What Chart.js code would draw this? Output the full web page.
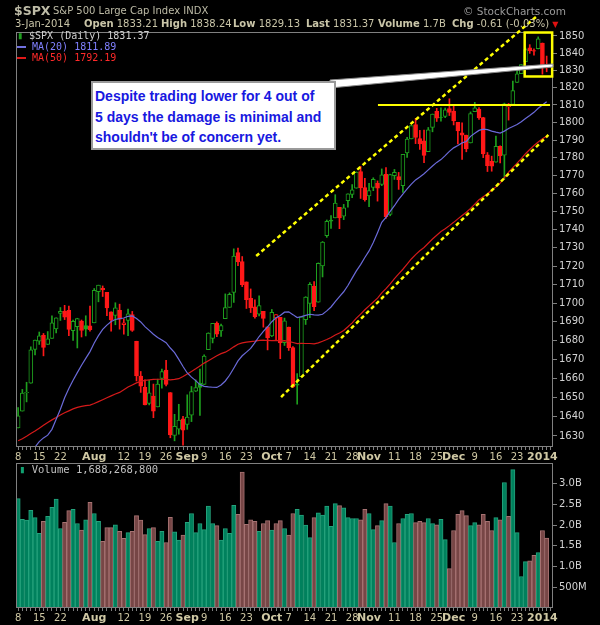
<!DOCTYPE html>
<html>
<head>
<meta charset="utf-8">
<script src="https://cdn.jsdelivr.net/npm/chart.js@4.4.1/dist/chart.umd.min.js"></script>
<style>
  body { margin:0; background:#000; width:600px; height:625px; overflow:hidden; position:relative; font-family:"DejaVu Sans", sans-serif; }
  canvas { position:absolute; left:0; }
  #priceChart { top:0; }
  #volChart { top:462px; }
  .txt { position:absolute; white-space:nowrap; line-height:1; }
  .hd { color:#c9c5a8; font-size:10px; }
  .hd b { color:#c9c5a8; }
  .lg { font-family:"DejaVu Sans Mono", monospace; font-size:10px; }
  #callout { position:absolute; left:91px; top:81px; width:239px; height:62px; background:#fff; border:2px solid #9a9a9a;
    font-family:"Liberation Sans", Arial, sans-serif; font-weight:bold; font-size:14px; color:#1818e0; line-height:20.6px; padding:3px 0 0 2px; box-sizing:content-box; }
</style>
</head>
<body>
<canvas id="priceChart" width="600" height="463"></canvas>
<canvas id="volChart" width="600" height="163"></canvas>

<div class="txt" style="left:14px;top:5px;font-size:12.5px;font-weight:bold;color:#bdbba6">$SPX</div>
<div class="txt" style="left:53px;top:6px;font-size:10px;color:#bdbba6">S&amp;P 500 Large Cap Index INDX</div>
<div class="txt" style="left:463px;top:6px;font-size:10.5px;color:#9a9a9a">&copy; StockCharts.com</div>

<div class="txt hd" style="left:15px;top:19px">3-Jan-2014</div>
<div class="txt hd" style="left:84px;top:19px"><b>Open</b> 1833.21</div>
<div class="txt hd" style="left:161px;top:19px"><b>High</b> 1838.24</div>
<div class="txt hd" style="left:233px;top:19px"><b>Low</b> 1829.13</div>
<div class="txt hd" style="left:306px;top:19px"><b>Last</b> 1831.37</div>
<div class="txt hd" style="left:378px;top:19px"><b>Volume</b> 1.7B</div>
<div class="txt hd" style="left:452px;top:19px"><b>Chg</b> -0.61 (-0.03%) <span style="color:#e01010;font-size:8px">&#9660;</span></div>

<div class="txt lg" style="left:17px;top:31px;color:#d0d0d0"><span style="color:#1fa01f">&#9646;</span> $SPX (Daily) 1831.37</div>
<div class="txt lg" style="left:17px;top:42px;color:#8080ff"><span style="display:inline-block;width:9px;height:2px;background:#7070e0;vertical-align:middle"></span> MA(20) 1811.89</div>
<div class="txt lg" style="left:17px;top:53px;color:#ff2a2a"><span style="display:inline-block;width:9px;height:2px;background:#e01818;vertical-align:middle"></span> MA(50) 1792.19</div>

<div id="callout">Despite trading lower for 4 out of<br>5 days the damage is minimal and<br>shouldn't be of concern yet.</div>

<div class="txt lg" style="left:19px;top:464px;color:#c0c0c0;font-size:10.5px"><span style="color:#10a070">&#9646;</span> Volume 1,688,268,800</div>

<script>
// S&P 500 daily, 8-Jul-2013 .. 3-Jan-2014
const days = [
  'Jul 8','Jul 9','Jul 10','Jul 11','Jul 12','Jul 15','Jul 16','Jul 17','Jul 18','Jul 19','Jul 22','Jul 23','Jul 24','Jul 25','Jul 26','Jul 29','Jul 30','Jul 31',
  'Aug 1','Aug 2','Aug 5','Aug 6','Aug 7','Aug 8','Aug 9','Aug 12','Aug 13','Aug 14','Aug 15','Aug 16','Aug 19','Aug 20','Aug 21','Aug 22','Aug 23','Aug 26','Aug 27','Aug 28','Aug 29','Aug 30',
  'Sep 3','Sep 4','Sep 5','Sep 6','Sep 9','Sep 10','Sep 11','Sep 12','Sep 13','Sep 16','Sep 17','Sep 18','Sep 19','Sep 20','Sep 23','Sep 24','Sep 25','Sep 26','Sep 27','Sep 30',
  'Oct 1','Oct 2','Oct 3','Oct 4','Oct 7','Oct 8','Oct 9','Oct 10','Oct 11','Oct 14','Oct 15','Oct 16','Oct 17','Oct 18','Oct 21','Oct 22','Oct 23','Oct 24','Oct 25','Oct 28','Oct 29','Oct 30','Oct 31',
  'Nov 1','Nov 4','Nov 5','Nov 6','Nov 7','Nov 8','Nov 11','Nov 12','Nov 13','Nov 14','Nov 15','Nov 18','Nov 19','Nov 20','Nov 21','Nov 22','Nov 25','Nov 26','Nov 27','Nov 29',
  'Dec 2','Dec 3','Dec 4','Dec 5','Dec 6','Dec 9','Dec 10','Dec 11','Dec 12','Dec 13','Dec 16','Dec 17','Dec 18','Dec 19','Dec 20','Dec 23','Dec 24','Dec 26','Dec 27','Dec 30','Dec 31',
  'Jan 2','Jan 3'
];

const prevClose = 1631.89; // close before the first day, for the colour of day 1

const opens = [
  1634.2,1642.89,1652.5,1657.41,1675.26,1679.59,1682.7,1677.91,1681.05,1686.15,
  1694.41,1695.53,1696.06,1685.21,1687.31,1690.32,1687.92,1687.76,1689.42,1706.1,
  1708.01,1705.79,1695.3,1693.35,1696.1,1688.37,1690.65,1693.88,1679.61,1661.22,
  1655.25,1646.81,1650.66,1645.03,1659.92,1664.29,1652.54,1630.25,1633.5,1638.89,
  1635.95,1640.72,1653.28,1657.44,1656.85,1675.11,1681.04,1689.21,1685.04,1691.7,
  1697.73,1705.74,1727.34,1722.44,1711.44,1702.6,1698.02,1694.05,1695.52,1687.26,
  1682.41,1691.9,1692.35,1678.79,1687.15,1676.22,1656.99,1660.88,1691.09,1699.86,
  1709.17,1700.49,1720.17,1736.72,1745.2,1746.48,1752.27,1747.48,1756.01,1759.42,
  1762.93,1772.27,1763.24,1758.7,1763.4,1765.67,1765.0,1770.74,1748.37,1769.96,
  1769.51,1764.37,1782.75,1790.66,1798.82,1790.79,1789.59,1783.52,1797.21,1806.33,
  1802.87,1803.48,1808.01,1806.55,1800.1,1794.15,1792.82,1788.36,1806.21,1807.6,
  1802.76,1781.71,1777.98,1777.48,1786.47,1781.46,1809.0,1810.39,1822.92,1828.02,
  1834.96,1842.97,1841.47,1842.61,1845.86,1833.21
];
const highs = [
  1644.68,1654.18,1657.92,1676.63,1680.19,1684.51,1683.73,1684.75,1693.12,1692.09,
  1697.61,1698.78,1698.38,1690.94,1691.85,1690.92,1693.19,1698.43,1707.85,1709.67,
  1709.24,1705.79,1695.3,1700.18,1699.42,1691.49,1696.81,1695.52,1679.61,1663.6,
  1659.18,1658.92,1656.99,1659.55,1664.85,1669.51,1652.54,1641.18,1646.41,1640.08,
  1651.35,1655.72,1659.17,1664.83,1672.4,1684.09,1689.13,1689.97,1688.73,1704.95,
  1705.52,1729.44,1729.86,1725.23,1711.44,1707.63,1701.71,1703.85,1695.52,1687.26,
  1696.55,1693.87,1692.35,1691.94,1687.15,1676.79,1662.47,1692.56,1703.44,1711.03,
  1711.57,1721.76,1733.45,1745.31,1747.79,1759.33,1752.27,1753.94,1759.82,1764.99,
  1772.09,1775.22,1768.53,1765.67,1768.78,1767.03,1773.74,1774.54,1770.78,1773.44,
  1771.78,1782.0,1791.53,1798.22,1802.33,1795.51,1795.73,1797.16,1804.84,1808.1,
  1808.42,1808.27,1813.55,1810.02,1800.1,1799.8,1792.82,1806.04,1811.52,1808.52,
  1802.97,1782.99,1780.92,1792.22,1786.77,1811.08,1810.88,1823.75,1829.75,1833.32,
  1842.84,1844.89,1842.47,1849.44,1845.86,1838.24
];
const lows = [
  1634.2,1642.89,1647.66,1657.41,1672.33,1677.89,1671.84,1677.91,1681.05,1684.08,
  1690.67,1691.13,1682.57,1680.07,1676.03,1681.86,1682.42,1684.94,1689.42,1700.68,
  1703.55,1693.29,1684.91,1688.38,1686.02,1683.35,1682.62,1684.83,1658.59,1652.61,
  1646.06,1646.08,1639.43,1645.03,1654.81,1656.02,1629.05,1627.47,1630.88,1625.27,
  1633.41,1637.41,1653.07,1640.62,1656.85,1675.11,1678.7,1681.96,1682.22,1691.7,
  1697.73,1700.35,1720.2,1708.89,1697.1,1694.9,1691.88,1693.11,1687.11,1674.99,
  1682.07,1680.34,1670.36,1677.33,1674.7,1655.03,1646.47,1660.88,1688.52,1692.13,
  1695.93,1700.49,1714.12,1735.74,1740.67,1746.48,1740.5,1745.5,1752.45,1757.67,
  1762.93,1757.24,1755.72,1752.7,1761.56,1755.76,1764.4,1746.2,1747.63,1767.85,
  1762.29,1760.64,1780.22,1790.66,1788.0,1784.72,1777.23,1783.52,1794.7,1800.58,
  1800.77,1802.77,1803.98,1798.6,1787.85,1779.09,1783.38,1788.36,1806.21,1801.75,
  1780.09,1772.28,1772.45,1777.48,1777.05,1767.99,1801.35,1810.25,1822.92,1828.02,
  1834.96,1839.81,1838.77,1842.41,1827.74,1829.13
];
const closes = [
  1640.46,1652.32,1652.62,1675.02,1680.19,1682.5,1676.26,1680.91,1689.37,1692.09,
  1695.53,1692.39,1685.94,1690.25,1691.65,1685.33,1685.96,1685.73,1706.87,1709.67,
  1707.14,1697.37,1690.91,1697.48,1691.42,1689.47,1694.16,1685.39,1661.32,1655.83,
  1646.06,1652.35,1642.8,1656.96,1663.5,1656.78,1630.48,1634.96,1638.17,1632.97,
  1639.77,1653.08,1655.08,1655.17,1671.71,1683.99,1689.13,1683.42,1687.99,1697.6,
  1704.76,1725.52,1722.34,1709.91,1701.84,1697.42,1692.77,1698.67,1691.75,1681.55,
  1695.0,1693.87,1678.66,1690.5,1676.12,1655.45,1656.4,1692.56,1703.2,1710.14,
  1698.06,1721.54,1733.15,1744.5,1744.66,1754.67,1746.38,1752.07,1759.77,1762.11,
  1771.95,1763.31,1756.54,1761.64,1767.93,1762.97,1770.49,1747.15,1770.61,1771.89,
  1767.69,1782.0,1790.62,1798.18,1791.53,1787.87,1781.37,1795.85,1804.76,1802.48,
  1802.75,1807.23,1805.81,1800.9,1795.15,1792.81,1785.03,1805.09,1808.37,1802.62,
  1782.22,1775.5,1775.32,1786.54,1781.0,1810.65,1809.6,1818.32,1827.99,1833.32,
  1842.02,1841.4,1841.07,1848.36,1831.98,1831.37
];

const ma20 = [
  1617.2,1617.7,1619.0,1622.1,1624.3,1627.1,1629.0,1630.4,1633.4,1638.6,
  1643.8,1649.8,1654.7,1659.0,1663.0,1666.9,1670.5,1674.1,1678.7,1682.6,
  1685.9,1688.2,1690.1,1691.2,1691.7,1692.0,1692.9,1693.1,1691.7,1689.9,
  1687.4,1685.4,1683.3,1681.6,1680.2,1678.8,1676.0,1673.5,1670.0,1666.2,
  1662.8,1660.6,1658.8,1656.7,1655.8,1655.5,1655.3,1655.2,1656.5,1658.6,
  1661.6,1665.3,1669.2,1671.9,1673.8,1675.8,1678.9,1682.1,1684.8,1687.3,
  1690.0,1692.1,1693.3,1695.1,1695.3,1693.8,1692.2,1692.7,1693.4,1694.0,
  1693.7,1693.5,1694.0,1695.8,1697.9,1700.8,1703.5,1706.1,1709.5,1713.5,
  1717.4,1720.8,1724.7,1728.3,1732.9,1738.3,1744.0,1746.7,1750.1,1753.2,
  1756.7,1759.7,1762.6,1765.2,1767.6,1769.2,1771.0,1773.2,1775.4,1777.4,
  1779.0,1781.2,1783.6,1785.6,1786.9,1788.4,1789.2,1792.1,1793.9,1795.5,
  1796.2,1795.9,1795.1,1794.5,1794.0,1795.1,1796.6,1797.7,1798.8,1800.4,
  1802.3,1804.0,1805.8,1808.1,1810.0,1811.9
];
const ma50 = [
  1627.5,1628.5,1629.8,1631.2,1632.5,1634.0,1635.5,1637.0,1638.3,1639.5,
  1640.8,1642.0,1643.0,1644.0,1644.8,1645.3,1645.7,1646.0,1646.8,1647.8,
  1648.8,1649.8,1650.8,1651.8,1652.6,1654.0,1655.4,1656.5,1657.6,1658.4,
  1658.9,1659.2,1659.4,1659.5,1659.5,1659.4,1659.2,1659.4,1659.8,1661.0,
  1662.3,1663.6,1665.0,1666.5,1668.0,1669.3,1670.6,1671.9,1673.0,1673.8,
  1675.1,1676.6,1678.0,1678.7,1679.1,1679.4,1679.7,1680.1,1680.2,1680.0,
  1679.9,1680.0,1679.8,1679.9,1679.5,1678.9,1678.3,1678.5,1678.4,1678.4,
  1678.2,1678.7,1679.6,1680.5,1681.6,1682.9,1684.0,1685.3,1687.3,1689.4,
  1691.9,1694.1,1696.4,1698.5,1700.6,1702.7,1705.5,1707.8,1710.4,1713.2,
  1715.8,1718.3,1721.1,1723.9,1726.3,1728.4,1730.2,1732.5,1734.8,1736.9,
  1738.9,1740.5,1742.2,1744.0,1745.9,1747.8,1749.6,1751.7,1754.1,1756.5,
  1758.2,1759.9,1761.8,1763.7,1765.8,1768.9,1772.0,1774.5,1777.0,1779.5,
  1782.3,1784.7,1786.9,1788.9,1790.7,1792.2
];

// volume, billions of shares
const volumes = [
  2.64,2.14,2.12,2.36,2.18,1.80,2.09,2.21,2.43,2.63,
  1.92,2.07,2.35,2.38,2.04,1.88,2.13,2.55,2.28,2.09,
  1.61,1.94,1.94,2.01,1.85,1.68,1.82,1.85,2.23,2.12,
  1.77,1.92,1.94,1.61,1.85,1.58,2.19,1.84,1.64,1.76,
  2.07,2.28,1.82,2.04,1.89,2.46,2.04,1.99,1.64,1.92,
  1.80,2.48,2.26,3.28,2.02,2.13,2.09,1.85,2.04,2.11,
  1.88,2.04,2.11,1.92,1.76,2.28,2.38,2.24,2.00,1.70,
  2.18,2.30,2.24,2.46,1.97,2.52,2.47,2.42,2.18,2.16,
  2.16,2.13,2.38,2.28,1.89,1.99,2.11,2.52,2.46,1.58,
  2.04,2.16,2.26,2.28,2.06,2.09,2.06,2.16,2.04,2.01,
  2.14,1.65,0.95,1.87,2.26,2.35,2.23,1.99,2.06,2.01,
  2.26,2.09,1.87,2.18,2.13,3.03,2.21,3.34,1.82,0.76,
  1.12,1.14,1.27,1.34,1.87,1.69
];

const priceTicks = [1630,1640,1650,1660,1670,1680,1690,1700,1710,1720,1730,1740,1750,1760,1770,1780,1790,1800,1810,1820,1830,1840,1850];
const volTicks = [0.5, 1.0, 1.5, 2.0, 2.5, 3.0];
const volTickLabels = ['500M', '1.0B', '1.5B', '2.0B', '2.5B', '3.0B'];
const xTickLabels = {
  'Jul 8':'8','Jul 15':'15','Jul 22':'22','Aug 1':'Aug','Aug 12':'12','Aug 19':'19','Aug 26':'26',
  'Sep 3':'Sep','Sep 9':'9','Sep 16':'16','Sep 23':'23','Oct 1':'Oct','Oct 7':'7','Oct 14':'14',
  'Oct 21':'21','Oct 28':'28','Nov 1':'Nov','Nov 11':'11','Nov 18':'18','Nov 25':'25','Dec 2':'Dec',
  'Dec 9':'9','Dec 16':'16','Dec 23':'23','Jan 2':'2014'
};
const boldLabels = ['Aug','Sep','Oct','Nov','Dec','2014'];

// annotations, in (day index, price)
const upperChannel = [[56.3, 1725.5], [123.0, 1862.3]];
const lowerChannel = [[62.2, 1650.2], [125.4, 1792.9]];
const resistance = [[85.1, 1810], [125.8, 1810]];
const focusBox = [[119.8, 1852.0], [126.3, 1826.4]];

const UP = '#1ea01e', DOWN = '#ff1818';
const slots = days.concat(['']); // one empty slot on the right

const candleColor = closes.map((c, i) => c >= (i ? closes[i - 1] : prevClose) ? UP : DOWN);
const bodyFill = closes.map((c, i) => c < opens[i] ? candleColor[i] : '#000');
const wicks = days.map((d, i) => [Math.min(lows[i], opens[i], closes[i]), Math.max(highs[i], opens[i], closes[i])]);
const bodies = days.map((d, i) => [opens[i], closes[i]]);

const volFill = candleColor.map(c => c === UP ? '#00815d' : '#774646');
const volEdge = candleColor.map(c => c === UP ? '#25a27c' : '#a67272');

function tickText(i) {
  return xTickLabels[slots[i]] || '';
}
function tickFont(ctx) {
  const t = tickText(ctx.index);
  return boldLabels.includes(t)
    ? { family: 'DejaVu Sans', size: 11, weight: 'bold' }
    : { family: 'DejaVu Sans', size: 10 };
}

const frame = {
  id: 'frame',
  afterDraw(chart) {
    const a = chart.chartArea, ctx = chart.ctx;
    ctx.save();
    ctx.strokeStyle = '#808080';
    ctx.lineWidth = 1;
    ctx.strokeRect(Math.round(a.left) + 0.5, Math.round(a.top) + 0.5, Math.round(a.right - a.left) - 1, Math.round(a.bottom - a.top) - 1);
    ctx.restore();
  }
};

const notes = {
  id: 'notes',
  afterDraw(chart) {
    const xs = chart.scales.x, ys = chart.scales.y, ctx = chart.ctx;
    const pt = p => [xs.getPixelForValue(p[0]), ys.getPixelForValue(p[1])];
    ctx.save();
    ctx.strokeStyle = '#ffff00';
    // dashed channel lines
    ctx.lineWidth = 2.5;
    ctx.setLineDash([4, 3]);
    [upperChannel, lowerChannel].forEach(l => {
      const a = pt(l[0]), b = pt(l[1]);
      ctx.beginPath(); ctx.moveTo(a[0], a[1]); ctx.lineTo(b[0], b[1]); ctx.stroke();
    });
    ctx.setLineDash([]);
    // horizontal resistance
    ctx.lineWidth = 2;
    let a = pt(resistance[0]), b = pt(resistance[1]);
    ctx.beginPath(); ctx.moveTo(a[0], a[1]); ctx.lineTo(b[0], b[1]); ctx.stroke();
    // box round the last five days
    ctx.lineWidth = 2.5;
    a = pt(focusBox[0]); b = pt(focusBox[1]);
    ctx.strokeRect(a[0], a[1], b[0] - a[0], b[1] - a[1]);
    // callout pointer
    ctx.fillStyle = '#ffffff';
    ctx.strokeStyle = '#8a8a8a';
    ctx.lineWidth = 1;
    ctx.beginPath();
    ctx.moveTo(330, 80); ctx.lineTo(553, 64); ctx.lineTo(553, 67); ctx.lineTo(330, 88);
    ctx.closePath(); ctx.fill(); ctx.stroke();
    ctx.restore();
  }
};

const xScale = {
  type: 'category',
  offset: true,
  grid: { display: true, drawOnChartArea: false, tickLength: 3, color: '#808080', offset: false },
  border: { display: false },
  ticks: {
    autoSkip: false, maxRotation: 0, minRotation: 0, padding: 1,
    color: '#cfc8a4',
    font: tickFont,
    callback: (v, i) => tickText(i)
  },
  afterFit: s => { s.height = 16; }
};

new Chart(document.getElementById('priceChart'), {
  type: 'bar',
  data: {
    labels: slots,
    datasets: [
      { type: 'line', data: ma20, borderColor: '#6a6ad8', borderWidth: 1.2, pointRadius: 0, tension: 0, order: 0 },
      { type: 'line', data: ma50, borderColor: '#d41a1a', borderWidth: 1.2, pointRadius: 0, tension: 0, order: 0 },
      { data: bodies, backgroundColor: bodyFill, borderColor: candleColor, borderWidth: 1, borderSkipped: false, barThickness: 4, grouped: false, order: 1 },
      { data: wicks, backgroundColor: candleColor, barThickness: 1, grouped: false, order: 2 }
    ]
  },
  options: {
    responsive: false,
    animation: false,
    events: [],
    layout: { padding: { left: 16, top: 32, right: 0, bottom: 0 } },
    plugins: { legend: { display: false }, tooltip: { enabled: false } },
    scales: {
      x: xScale,
      y: {
        type: 'logarithmic',
        position: 'right',
        min: 1624.3,
        max: 1852.3,
        afterBuildTicks: s => { s.ticks = priceTicks.map(v => ({ value: v })); },
        grid: { drawOnChartArea: false, tickLength: 4, color: '#808080' },
        border: { display: false },
        ticks: { autoSkip: false, padding: 2, color: '#d2d2d2', font: { family: 'DejaVu Sans', size: 10 }, callback: v => String(v) },
        afterFit: s => { s.width = 47; s.paddingTop = 0; s.paddingBottom = 0; }
      }
    }
  },
  plugins: [frame, notes]
});

new Chart(document.getElementById('volChart'), {
  type: 'bar',
  data: {
    labels: slots,
    datasets: [
      { data: volumes, backgroundColor: volFill, borderColor: volEdge, borderWidth: 1, barPercentage: 1, categoryPercentage: 1 }
    ]
  },
  options: {
    responsive: false,
    animation: false,
    events: [],
    layout: { padding: { left: 16, top: 1, right: 0, bottom: 0 } },
    plugins: { legend: { display: false }, tooltip: { enabled: false } },
    scales: {
      x: Object.assign({}, xScale, { afterFit: s => { s.height = 17; } }),
      y: {
        position: 'right',
        min: 0,
        max: 3.5,
        afterBuildTicks: s => { s.ticks = volTicks.map(v => ({ value: v })); },
        grid: { drawOnChartArea: false, tickLength: 4, color: '#808080' },
        border: { display: false },
        ticks: { autoSkip: false, padding: 2, color: '#d2d2d2', font: { family: 'DejaVu Sans', size: 10 },
          callback: (v, i) => volTickLabels[i] },
        afterFit: s => { s.width = 47; s.paddingTop = 0; s.paddingBottom = 0; }
      }
    }
  },
  plugins: [frame]
});
</script>
</body>
</html>
